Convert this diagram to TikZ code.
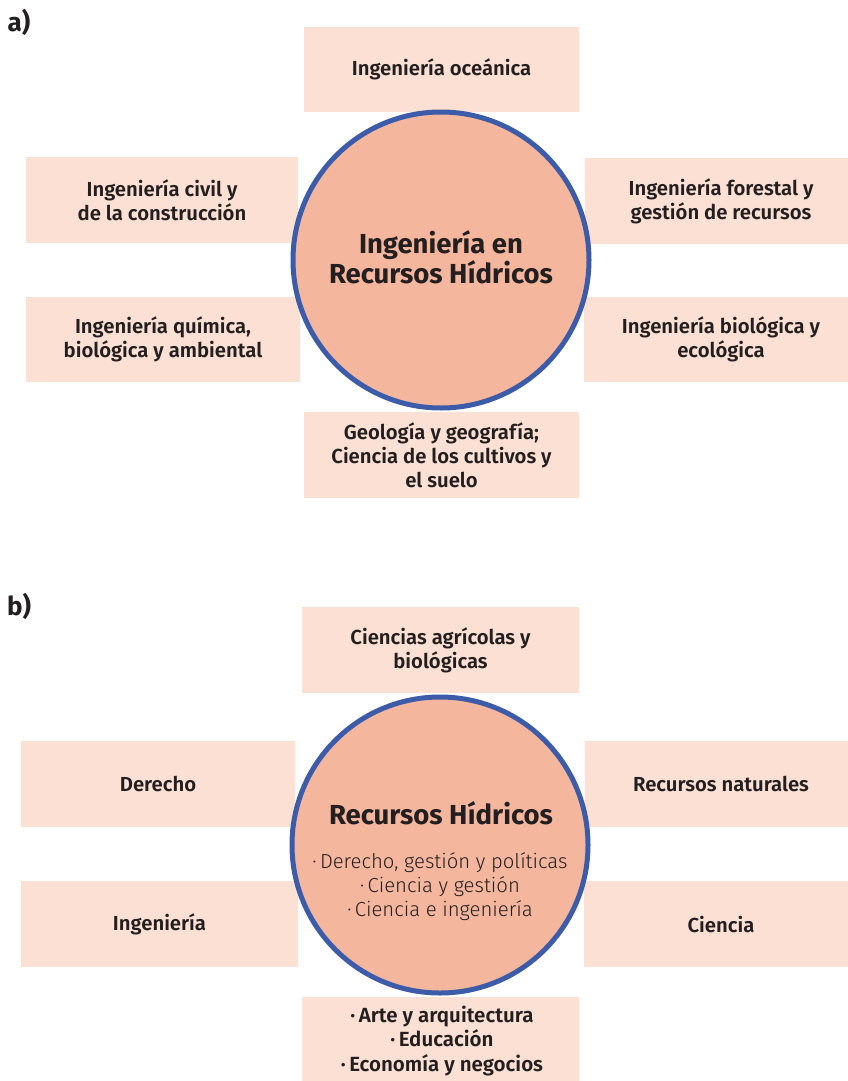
\documentclass[tikz,border=0pt]{standalone}
\usepackage{fontspec}
\setmainfont{Fira Sans}[UprightFont=* Medium, BoldFont=* Bold]
\newfontfamily\lightfont{Fira Sans Light}
\newfontfamily\semifont{Fira Sans SemiBold}
\definecolor{boxc}{HTML}{FBE0D3}
\definecolor{circc}{HTML}{F4B69D}
\definecolor{ringc}{HTML}{3C5BA9}
\definecolor{txtc}{HTML}{231F20}
\begin{document}
\begin{tikzpicture}[x=1pt,y=-1pt,
  box/.style={fill=boxc, inner sep=0pt, align=center, text=txtc,
    font=\semifont\fontsize{20.3}{24}\selectfont},
  hub/.style={circle, fill=circc, draw=ringc, line width=5pt, minimum size=296pt, inner sep=0pt},
  hubtitle/.style={text=txtc, align=center, font=\bfseries\fontsize{27.5}{30}\selectfont},
  panel/.style={text=txtc, font=\bfseries\fontsize{26}{30}\selectfont}]
\useasboundingbox (0,0) rectangle (847,1081);
% panel a
\node[panel] (la) at (19,22) {a)};
\node[box, minimum width=275pt, minimum height=85pt] (a1) at (441.5,69.5) {Ingeniería oceánica};
\node[box, minimum width=272pt, minimum height=86pt] (a2) at (162,200) {Ingeniería civil y\\de la construcción};
\node[box, minimum width=272pt, minimum height=86pt] (a3) at (721,201) {Ingeniería forestal y\\gestión de recursos};
\node[box, minimum width=274pt, minimum height=85pt] (a4) at (163,339.5) {Ingeniería química,\\biológica y ambiental};
\node[box, minimum width=274pt, minimum height=85pt] (a5) at (721,339.5) {Ingeniería biológica y\\ecológica};
\node[box, minimum width=275pt, minimum height=86pt] (a6) at (441.5,455) {Geología y geografía;\\Ciencia de los cultivos y\\el suelo};
\node[hub] (ha) at (441,260) {};
\node[hubtitle] (ta) at (441,257) {Ingeniería en\\Recursos Hídricos};
% panel b
\node[panel] (lb) at (19,606) {b)};
\node[box, minimum width=277pt, minimum height=86pt] (b1) at (440.5,650) {Ciencias agrícolas y\\biológicas};
\node[box, minimum width=274pt, minimum height=86pt] (b2) at (158,784) {Derecho};
\node[box, minimum width=272pt, minimum height=86pt] (b3) at (721,784) {Recursos naturales};
\node[box, minimum width=277pt, minimum height=86pt] (b4) at (159.5,924) {Ingeniería};
\node[box, minimum width=274pt, minimum height=86pt] (b5) at (721,924) {Ciencia};
\node[box, minimum width=277pt, minimum height=96pt] (b6) at (440.5,1045) {};
\node[text=txtc, align=center, font=\semifont\fontsize{20.5}{24.5}\selectfont] (b6t) at (442,1041) {·\,Arte y arquitectura\\·\,Educación\\·\,Economía y negocios};
\node[hub] (hb) at (440,845) {};
\node[hubtitle] (tb) at (441,813) {Recursos Hídricos};
\node[text=txtc, align=center, font=\lightfont\fontsize{20.3}{24}\selectfont] (lb2) at (440,887) {·\,Derecho, gestión y políticas\\·\,Ciencia y gestión\\·\,Ciencia e ingeniería};
\end{tikzpicture}
\end{document}
